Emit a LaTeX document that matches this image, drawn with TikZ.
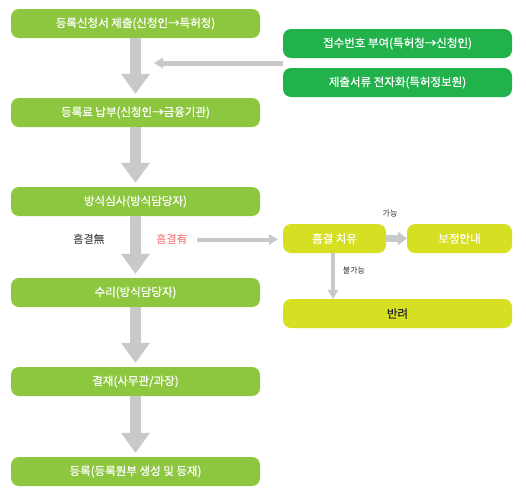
\documentclass[tikz,border=0pt]{standalone}
\usepackage{fontspec}
\setmainfont{Noto Sans CJK KR}
\newfontfamily\boxfont[FakeBold=0.6]{Noto Sans CJK KR}
\usetikzlibrary{arrows.meta}
\definecolor{leaf}{HTML}{8DC63F}
\definecolor{office}{HTML}{22B24C}
\definecolor{lime}{HTML}{D7DF23}
\definecolor{shaft}{HTML}{C8C9CB}
\definecolor{flaw}{HTML}{F26B6B}
\begin{document}
\begin{tikzpicture}[x=1pt,y=-1pt,
  box/.style={rounded corners=8pt,inner sep=0pt,minimum height=29pt,text=white,font=\boxfont\fontsize{11.5}{13}\selectfont},
  stage/.style={box,fill=leaf,minimum width=249pt},
  agency/.style={box,fill=office,minimum width=229pt},
  cure/.style={box,fill=lime},
  bigarrow/.style={shaft,line width=11pt,-{Triangle[width=29pt,length=20pt,line width=0pt]}},
  thin/.style={shaft,line width=4pt,-{Triangle[width=11pt,length=9pt,line width=0pt]}},
  note/.style={text=black!80,font=\fontsize{8}{10}\selectfont}]
\useasboundingbox (0,0) rectangle (526,501);
% left column
\node[stage] (submit) at (135.5,23.5) {등록신청서 제출(신청인→특허청)};
\node[stage] (fee) at (135.5,112.5) {등록료 납부(신청인→금융기관)};
\node[stage] (check) at (135.5,201.5) {방식심사(방식담당자)};
\node[stage] (accept) at (135.5,292.5) {수리(방식담당자)};
\node[stage] (sign) at (135.5,381.5) {결재(사무관/과장)};
\node[stage] (enroll) at (135.5,471.5) {등록(등록원부 생성 및 등재)};
\draw[bigarrow,shorten >=4pt] (submit) -- (fee);
\draw[bigarrow,shorten >=4pt] (fee) -- (check);
\draw[bigarrow,shorten >=4pt] (check) -- (accept);
\draw[bigarrow,shorten >=4pt] (accept) -- (sign);
\draw[bigarrow,shorten >=4pt] (sign) -- (enroll);
% office side
\node[agency] (number) at (397.5,43.5) {접수번호 부여(특허청→신청인)};
\node[agency] (scan) at (397.5,82.5) {제출서류 전자화(특허정보원)};
\coordinate (join) at (283,63);
\coordinate (feed) at (154,63);
\draw[thin,line width=5pt] (join) -- (feed);
% defects
\node[font=\fontsize{11}{13}\selectfont,text=black!85] (nodef) at (89,239.5) {흠결無};
\node[font=\fontsize{11}{13}\selectfont,text=flaw] (withdef) at (172,239.5) {흠결有};
\node[cure,minimum width=103pt] (fix) at (334.5,238.5) {흠결 치유};
\node[cure,minimum width=105pt] (notice) at (459.5,238.5) {보정안내};
\node[cure,minimum width=229pt,text=black!85] (reject) at (397.5,313.5) {반려};
\draw[thin,shorten <=6pt,shorten >=5pt] (withdef) -- (withdef-|fix.west);
\draw[thin,line width=7pt,-{Triangle[width=14pt,length=9pt,line width=0pt]}] (fix) -- (notice);
\draw[thin] (fix.south-|333,0) -- (reject.north-|333,0);
\node[note] (can) at (390,213) {가능};
\node[note] (cannot) at (354,270) {불가능};
\end{tikzpicture}
\end{document}
